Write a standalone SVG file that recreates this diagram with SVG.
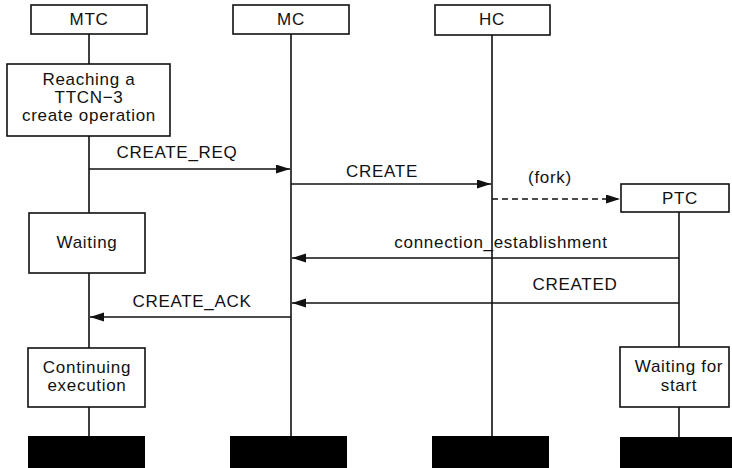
<svg xmlns="http://www.w3.org/2000/svg" width="732" height="468" viewBox="0 0 732 468">
<defs>
<marker id="ah" markerUnits="userSpaceOnUse" markerWidth="15" markerHeight="10" refX="14" refY="4.5" orient="auto">
<path d="M0,0 L14,4.5 L0,9 z" fill="#111"/>
</marker>
<style>
.box{fill:#fff;stroke:#111;stroke-width:1.6}
.bar{fill:#000}
.life{stroke:#111;stroke-width:1.6;fill:none}
.msg{stroke:#111;stroke-width:1.6;fill:none;marker-end:url(#ah)}
.dash{stroke-dasharray:6 4}
text{font-family:"Liberation Sans",Arial,Helvetica,sans-serif;font-size:17px;letter-spacing:0.7px;fill:#111;text-anchor:middle}
</style>
</defs>
<rect width="732" height="468" fill="#fff"/>
<g id="lifelines">
<path class="life" d="M89,34 V64 M89,136 V213 M89,273 V348 M89,407 V436"/>
<path class="life" d="M291,34 V436"/>
<path class="life" d="M492,35 V436"/>
<path class="life" d="M679,212 V347 M679,407 V437"/>
</g>
<g id="connectors">
<line class="msg" x1="89" y1="169" x2="290" y2="169"/>
<line class="msg" x1="291" y1="184" x2="491" y2="184"/>
<line class="msg dash" x1="492" y1="199" x2="620" y2="199"/>
<line class="msg" x1="679" y1="258" x2="292" y2="258"/>
<line class="msg" x1="679" y1="303" x2="292" y2="303"/>
<line class="msg" x1="291" y1="317" x2="90" y2="317"/>
</g>
<g id="labels">
<text x="177" y="158">CREATE_REQ</text>
<text x="382" y="177">CREATE</text>
<text x="550" y="183">(fork)</text>
<text x="501" y="248">connection_establishment</text>
<text x="575" y="290">CREATED</text>
<text x="192" y="307">CREATE_ACK</text>
</g>
<g id="MTC"><rect class="box" x="31" y="5" width="116" height="29"/><text x="89" y="25">MTC</text></g>
<g id="MC"><rect class="box" x="233" y="5" width="116" height="29"/><text x="291" y="25">MC</text></g>
<g id="HC"><rect class="box" x="435" y="5" width="115" height="30"/><text x="492" y="25">HC</text></g>
<g id="PTC"><rect class="box" x="621" y="184" width="108" height="28"/><text x="680" y="204">PTC</text></g>
<g id="reaching"><rect class="box" x="7" y="64" width="163" height="72"/><text x="89" y="85">Reaching a</text><text x="89" y="103">TTCN−3</text><text x="89" y="121">create operation</text></g>
<g id="waiting"><rect class="box" x="29" y="213" width="116" height="60"/><text x="87" y="248">Waiting</text></g>
<g id="continuing"><rect class="box" x="28" y="348" width="117" height="59"/><text x="87" y="373">Continuing</text><text x="87" y="391">execution</text></g>
<g id="waitingstart"><rect class="box" x="620" y="347" width="109" height="60"/><text x="679" y="372">Waiting for</text><text x="679" y="391">start</text></g>
<g id="ends">
<rect class="bar" x="28" y="436" width="117" height="32"/>
<rect class="bar" x="230" y="436" width="117" height="32"/>
<rect class="bar" x="432" y="436" width="117" height="32"/>
<rect class="bar" x="620" y="437" width="112" height="31"/>
</g>
</svg>
